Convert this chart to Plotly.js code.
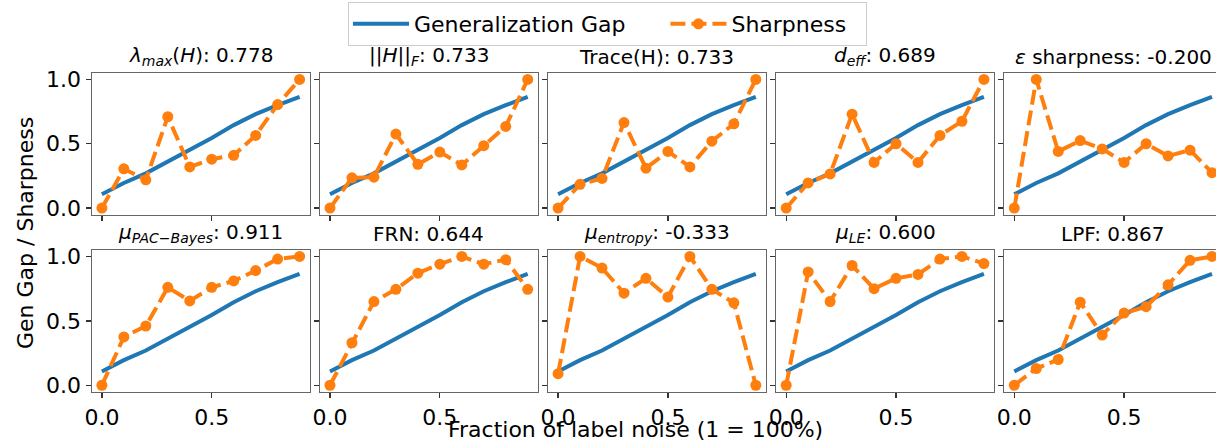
<!DOCTYPE html>
<html>
<head>
<meta charset="utf-8">
<script src="https://cdn.plot.ly/plotly-3.0.1.min.js"></script>
<style>
html, body { margin: 0; padding: 0; background: #fff; overflow: hidden; }
#chart { width: 1216px; height: 441px; }
</style>
</head>
<body>
<div id="chart"></div>
<script>
// ---- data ----
const noise = [0, 0.1, 0.2, 0.3, 0.4, 0.5, 0.6, 0.7, 0.8, 0.9];
const genGap = [0.107, 0.195, 0.27, 0.36, 0.45, 0.545, 0.645, 0.73, 0.80, 0.865];

const sharpLambdaMax = [0, 0.305, 0.22, 0.71, 0.32, 0.38, 0.41, 0.565, 0.805, 1.0];
const sharpFrobenius = [0, 0.235, 0.24, 0.575, 0.34, 0.435, 0.335, 0.485, 0.635, 1.0];
const sharpTrace = [0, 0.185, 0.23, 0.665, 0.31, 0.44, 0.32, 0.52, 0.655, 1.0];
const sharpDeff = [0, 0.195, 0.265, 0.73, 0.355, 0.5, 0.355, 0.565, 0.675, 1.0];
const sharpEpsilon = [0, 1.0, 0.44, 0.525, 0.46, 0.355, 0.5, 0.405, 0.45, 0.275];
const sharpPacBayes = [0, 0.375, 0.46, 0.76, 0.655, 0.76, 0.81, 0.89, 0.98, 1.0];
const sharpFRN = [0, 0.33, 0.65, 0.745, 0.87, 0.94, 1.0, 0.94, 0.975, 0.745];
const sharpEntropy = [0.09, 1.0, 0.91, 0.715, 0.83, 0.685, 1.0, 0.745, 0.64, 0];
const sharpLE = [0, 0.88, 0.65, 0.93, 0.75, 0.83, 0.86, 0.98, 1.0, 0.945];
const sharpLPF = [0, 0.13, 0.2, 0.645, 0.39, 0.56, 0.61, 0.78, 0.97, 1.0];

const seriesNames = ['Generalization Gap', 'Sharpness'];
const panelTitles = [
  '<i>λ</i><sub><i>max</i></sub>(<i>H</i>): 0.778',
  '||<i>H</i>||<sub><i>F</i></sub>: 0.733',
  'Trace(H): 0.733',
  '<i>d</i><sub><i>eff</i></sub>: 0.689',
  '<i>ε</i> sharpness: -0.200',
  '<i>μ</i><sub><i>PAC−Bayes</i></sub>: 0.911',
  'FRN: 0.644',
  '<i>μ</i><sub><i>entropy</i></sub>: -0.333',
  '<i>μ</i><sub><i>LE</i></sub>: 0.600',
  'LPF: 0.867'
];
const panelSharpness = [sharpLambdaMax, sharpFrobenius, sharpTrace, sharpDeff, sharpEpsilon,
                        sharpPacBayes, sharpFRN, sharpEntropy, sharpLE, sharpLPF];
const xTickVals = [0, 0.5];
const xTickText = ['0.0', '0.5'];
const yTickVals = [0, 0.5, 1];
const yTickText = ['0.0', '0.5', '1.0'];

// ---- layout geometry (pixels) ----
const W = 1216, H = 441;
const colLeft = [92, 320.1, 548.2, 776.3, 1004.4];
const colWidth = 217.5;
const pxPerUnit = colWidth / 0.99;
const rowTop = [73, 250];
const rowBottom = [214.5, 391.7];

const BLUE = '#1f77b4', ORANGE = '#ff7f0e';
const FONT = 'DejaVu Sans, Liberation Sans, sans-serif';
const pad = (s, k) => s + '&nbsp;'.repeat(k);

const traces = [];
const layout = {
  width: W, height: H,
  margin: {l: 0, r: 0, t: 0, b: 0},
  paper_bgcolor: '#fff', plot_bgcolor: '#fff',
  font: {family: FONT, size: 22, color: '#000'},
  showlegend: true,
  legend: {
    orientation: 'h',
    x: 348 / W, xanchor: 'left',
    y: 1 - 2 / H, yanchor: 'top',
    bordercolor: '#cccccc', borderwidth: 1,
    bgcolor: '#fff',
    itemwidth: 56,
    font: {family: FONT, size: 22, color: '#000'},
    tracegroupgap: 0
  },
  annotations: [],
  shapes: []
};

for (let i = 0; i < 10; i++) {
  const r = Math.floor(i / 5), c = i % 5;
  const n = i + 1;
  const xa = 'x' + (n === 1 ? '' : n), ya = 'y' + (n === 1 ? '' : n);
  traces.push({
    x: noise, y: genGap, xaxis: xa, yaxis: ya,
    type: 'scatter', mode: 'lines',
    name: pad(seriesNames[0], 5), legendgroup: 'gap', showlegend: i === 0,
    line: {color: BLUE, width: 4}
  });
  traces.push({
    x: noise, y: panelSharpness[i], xaxis: xa, yaxis: ya,
    type: 'scatter', mode: 'lines+markers',
    name: pad(seriesNames[1], 2), legendgroup: 'sharp', showlegend: i === 0,
    line: {color: ORANGE, width: 4, dash: '15px,6px'},
    marker: {color: ORANGE, size: 11}
  });
  const left = colLeft[c];
  let right = left + colWidth;
  const clipped = right > W;
  if (clipped) right = W;
  const xmax = -0.045 + (right - left) / pxPerUnit;
  const xkey = 'xaxis' + (n === 1 ? '' : n), ykey = 'yaxis' + (n === 1 ? '' : n);
  layout[xkey] = {
    domain: [left / W, right / W],
    range: [-0.045, xmax],
    anchor: ya,
    tickvals: xTickVals, ticktext: xTickText,
    showticklabels: r === 1,
    ticks: 'outside', ticklen: 5, tickwidth: 1.3, tickcolor: '#333',
    showline: true, linecolor: '#666', linewidth: 1.5, mirror: true,
    showgrid: false, zeroline: false,
    tickfont: {family: FONT, size: 22, color: '#000'}
  };
  layout[ykey] = {
    domain: [(H - rowBottom[r]) / H, (H - rowTop[r]) / H],
    range: [-0.05, 1.05],
    anchor: xa,
    tickvals: yTickVals, ticktext: yTickText,
    showticklabels: c === 0,
    ticks: 'outside', ticklen: 5, tickwidth: 1.3, tickcolor: '#333',
    showline: true, linecolor: '#666', linewidth: 1.5, mirror: !clipped,
    showgrid: false, zeroline: false,
    tickfont: {family: FONT, size: 22, color: '#000'}
  };
  layout.annotations.push({
    text: panelTitles[i],
    xref: 'paper', yref: 'paper',
    x: (colLeft[c] + colWidth / 2) / W,
    y: (H - rowTop[r]) / H,
    xanchor: 'center', yanchor: 'bottom', yshift: 2,
    showarrow: false,
    font: {family: FONT, size: 20, color: '#000'}
  });
}

layout.annotations.push({
  text: 'Gen Gap / Sharpness',
  xref: 'paper', yref: 'paper',
  x: 25 / W, y: (H - 233) / H,
  xanchor: 'center', yanchor: 'middle',
  textangle: -90, showarrow: false,
  font: {family: FONT, size: 22, color: '#000'}
});
layout.annotations.push({
  text: 'Fraction of label noise (1 = 100%)',
  xref: 'paper', yref: 'paper',
  x: 635 / W, y: (H - 429.5) / H,
  xanchor: 'center', yanchor: 'middle',
  showarrow: false,
  font: {family: FONT, size: 22, color: '#000'}
});

Plotly.newPlot('chart', traces, layout, {displayModeBar: false, staticPlot: true});
</script>
</body>
</html>
